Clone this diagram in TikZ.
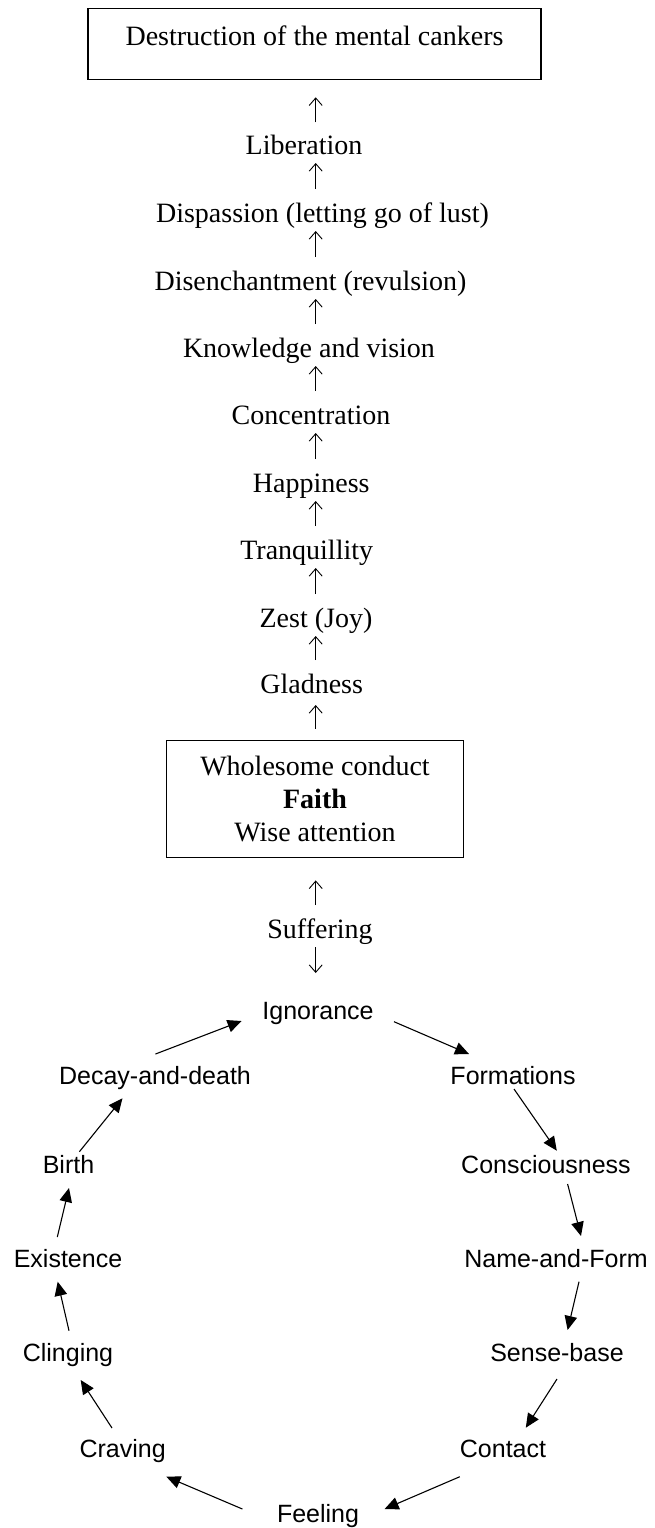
\documentclass[tikz,border=0pt]{standalone}
\usepackage{fontspec}
\setmainfont{Liberation Serif}
\setsansfont{Liberation Sans}
\usetikzlibrary{calc, positioning, arrows.meta}
\tikzset{
    stage/.style={anchor=base, inner sep=0pt, font=\fontsize{28}{33}\selectfont},
    link/.style={anchor=base, inner sep=0pt, font=\sffamily\fontsize{25}{29}\selectfont},
    goal/.style={rectangle, draw=black, line width=1.2pt, anchor=base, inner sep=0pt, minimum width=453pt, text height=37.3pt, text depth=33.3pt, font=\fontsize{28}{33}\selectfont},
    root/.style={rectangle, draw=black, line width=0.8pt, minimum width=296.6pt, minimum height=117pt, align=center, font=\fontsize{28}{33}\selectfont},
    rise/.style={-{Straight Barb[length=7.5pt,width=13pt]}, line width=0.9pt},
    turn/.style={-{Triangle[length=14pt,width=12.5pt]}, line width=1.1pt}
}

\begin{document}
\begin{tikzpicture}[x=1pt, y=1pt]
    \useasboundingbox (0,0) rectangle (655,-1528);
    \coordinate (ax) at (315.7,0);

    % Path to liberation
    \node[goal] (goal) at (314.5,-46) {Destruction of the mental cankers};
    \node[stage] (lib) at (304,-154) {Liberation};
    \node[stage] (disp) at (322.5,-222) {Dispassion (letting go of lust)};
    \node[stage] (disen) at (310.5,-290) {Disenchantment (revulsion)};
    \node[stage] (knw) at (309,-357) {Knowledge and vision};
    \node[stage] (conc) at (311,-424) {Concentration};
    \node[stage] (happy) at (311.3,-492) {Happiness};
    \node[stage] (tranq) at (306.7,-559) {Tranquillity};
    \node[stage] (zest) at (316,-627) {Zest (Joy)};
    \node[stage] (glad) at (311.7,-693) {Gladness};
    \node[root] (root) at (315,-798.5) {Wholesome conduct\\\textbf{Faith}\\Wise attention};
    \node[stage] (suff) at (320,-938) {Suffering};

    \draw[rise] ($(lib.base -| ax)+(0,31.7)$) -- ($(goal.south -| ax)+(0,-17.4)$);
    \foreach \lo/\hi in {disp/lib, disen/disp, knw/disen, conc/knw, happy/conc, tranq/happy, zest/tranq, glad/zest}
        \draw[rise] ($(\lo.base -| ax)+(0,33)$) -- ($(\hi.base -| ax)+(0,-9)$);
    \draw[rise] ($(root.north -| ax)+(0,11)$) -- ($(glad.base -| ax)+(0,-12)$);
    \draw[rise] ($(suff.base -| ax)+(0,33)$) -- ($(root.south -| ax)+(0,-23)$);

    % Dependent origination
    \node[link] (ign) at (318,-1019) {Ignorance};
    \node[link] (form) at (513,-1084) {Formations};
    \node[link] (cons) at (546,-1173) {Consciousness};
    \node[link] (name) at (556,-1267) {Name-and-Form};
    \node[link] (sense) at (557,-1361) {Sense-base};
    \node[link] (contact) at (503,-1457) {Contact};
    \node[link] (feel) at (318,-1522) {Feeling};
    \node[link] (crav) at (122.6,-1457) {Craving};
    \node[link] (cling) at (68,-1361) {Clinging};
    \node[link] (exist) at (68,-1267) {Existence};
    \node[link] (birth) at (68.5,-1173) {Birth};
    \node[link] (decay) at (155,-1084) {Decay-and-death};

    \draw[rise] ($(suff.base -| ax)+(0,-9)$) -- ($(ign.base -| ax)+(0,46)$);

    \draw[turn] ([shift={(76,-2.7)}]ign.base) -- ([shift={(-44,30)}]form.base);
    \draw[turn] ([shift={(1,-5)}]form.base) -- ([shift={(10.8,22.3)}]cons.base);
    \draw[turn] ([shift={(21.6,-11)}]cons.base) -- ([shift={(25,31)}]name.base);
    \draw[turn] ([shift={(23,-14.7)}]name.base) -- ([shift={(10.6,31)}]sense.base);
    \draw[turn] ([shift={(0,-18)}]sense.base) -- ([shift={(22.8,29.3)}]contact.base);
    \draw[turn] ([shift={(-43.2,-19.7)}]contact.base) -- ([shift={(66.6,13)}]feel.base);
    \draw[turn] ([shift={(-75.6,13)}]feel.base) -- ([shift={(43.8,-19.7)}]crav.base);
    \draw[turn] ([shift={(-10.6,29)}]crav.base) -- ([shift={(12.7,-19)}]cling.base);
    \draw[turn] ([shift={(1,30.3)}]cling.base) -- ([shift={(-10.3,-14.7)}]exist.base);
    \draw[turn] ([shift={(-10.7,30)}]exist.base) -- ([shift={(0.5,-15)}]birth.base);
    \draw[turn] ([shift={(10.9,21.3)}]birth.base) -- ([shift={(-32.5,-14.3)}]decay.base);
    \draw[turn] ([shift={(0.5,30)}]decay.base) -- ([shift={(-76.4,-2)}]ign.base);
\end{tikzpicture}
\end{document}
